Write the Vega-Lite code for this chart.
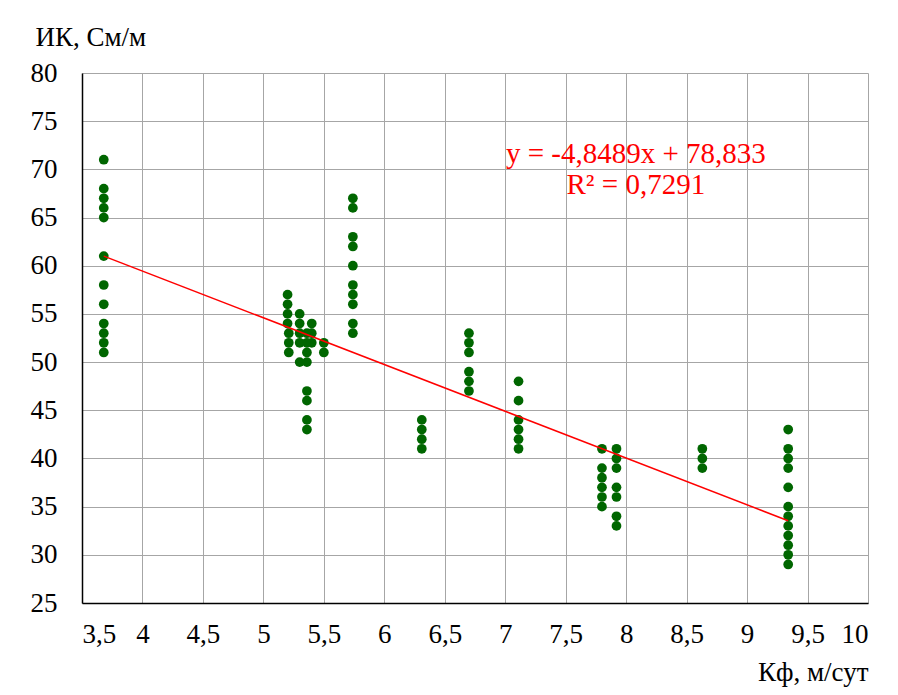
{
  "$schema": "https://vega.github.io/schema/vega-lite/v6.json",
  "width": 786,
  "height": 530,
  "autosize": {"type": "none"},
  "padding": {"left": 82, "top": 73, "right": 30, "bottom": 92},
  "background": "white",
  "config": {
    "view": {"stroke": null},
    "font": "Liberation Serif",
    "axis": {
      "labelFont": "Liberation Serif",
      "titleFont": "Liberation Serif",
      "labelFontSize": 27,
      "titleFontSize": 27,
      "labelColor": "black",
      "titleColor": "black",
      "titleFontWeight": "normal",
      "gridColor": "#a6a6a6",
      "gridWidth": 1,
      "domainColor": "black",
      "domainWidth": 1.5,
      "ticks": false
    }
  },
  "datasets": {
    "pts": [
      {"k": 3.68, "ik": 71}, {"k": 3.68, "ik": 68}, {"k": 3.68, "ik": 67}, {"k": 3.68, "ik": 66},
      {"k": 3.68, "ik": 65}, {"k": 3.68, "ik": 61}, {"k": 3.68, "ik": 58}, {"k": 3.68, "ik": 56},
      {"k": 3.68, "ik": 54}, {"k": 3.68, "ik": 53}, {"k": 3.68, "ik": 52}, {"k": 3.68, "ik": 51},
      {"k": 5.2, "ik": 57}, {"k": 5.2, "ik": 56}, {"k": 5.2, "ik": 55}, {"k": 5.2, "ik": 54},
      {"k": 5.21, "ik": 53}, {"k": 5.21, "ik": 52}, {"k": 5.21, "ik": 51},
      {"k": 5.3, "ik": 55}, {"k": 5.3, "ik": 54}, {"k": 5.3, "ik": 53}, {"k": 5.3, "ik": 52}, {"k": 5.3, "ik": 50},
      {"k": 5.36, "ik": 53}, {"k": 5.36, "ik": 52}, {"k": 5.36, "ik": 51}, {"k": 5.36, "ik": 50},
      {"k": 5.36, "ik": 47}, {"k": 5.36, "ik": 46}, {"k": 5.36, "ik": 44}, {"k": 5.36, "ik": 43},
      {"k": 5.4, "ik": 54}, {"k": 5.4, "ik": 53}, {"k": 5.4, "ik": 52},
      {"k": 5.5, "ik": 52}, {"k": 5.5, "ik": 51},
      {"k": 5.74, "ik": 67}, {"k": 5.74, "ik": 66}, {"k": 5.74, "ik": 63}, {"k": 5.74, "ik": 62},
      {"k": 5.74, "ik": 60}, {"k": 5.74, "ik": 58}, {"k": 5.74, "ik": 57}, {"k": 5.74, "ik": 56},
      {"k": 5.74, "ik": 54}, {"k": 5.74, "ik": 53},
      {"k": 6.31, "ik": 44}, {"k": 6.31, "ik": 43}, {"k": 6.31, "ik": 42}, {"k": 6.31, "ik": 41},
      {"k": 6.7, "ik": 53}, {"k": 6.7, "ik": 52}, {"k": 6.7, "ik": 51}, {"k": 6.7, "ik": 49},
      {"k": 6.7, "ik": 48}, {"k": 6.7, "ik": 47},
      {"k": 7.11, "ik": 48}, {"k": 7.11, "ik": 46}, {"k": 7.11, "ik": 44}, {"k": 7.11, "ik": 43},
      {"k": 7.11, "ik": 42}, {"k": 7.11, "ik": 41},
      {"k": 7.8, "ik": 41}, {"k": 7.8, "ik": 39}, {"k": 7.8, "ik": 38}, {"k": 7.8, "ik": 37},
      {"k": 7.8, "ik": 36}, {"k": 7.8, "ik": 35},
      {"k": 7.92, "ik": 41}, {"k": 7.92, "ik": 40}, {"k": 7.92, "ik": 39}, {"k": 7.92, "ik": 37},
      {"k": 7.92, "ik": 36}, {"k": 7.92, "ik": 34}, {"k": 7.92, "ik": 33},
      {"k": 8.63, "ik": 41}, {"k": 8.63, "ik": 40}, {"k": 8.63, "ik": 39},
      {"k": 9.34, "ik": 43}, {"k": 9.34, "ik": 41}, {"k": 9.34, "ik": 40}, {"k": 9.34, "ik": 39},
      {"k": 9.34, "ik": 37}, {"k": 9.34, "ik": 35}, {"k": 9.34, "ik": 34}, {"k": 9.34, "ik": 33},
      {"k": 9.34, "ik": 32}, {"k": 9.34, "ik": 31}, {"k": 9.34, "ik": 30}, {"k": 9.34, "ik": 29}
    ],
    "trend": [
      {"k": 3.68, "ik": 61.0},
      {"k": 9.34, "ik": 33.54}
    ],
    "notes": [
      {"k": 8.08, "ik": 71.6, "label": "y = -4,8489x + 78,833"},
      {"k": 8.08, "ik": 68.4, "label": "R² = 0,7291"}
    ]
  },
  "layer": [
    {
      "data": {"name": "pts"},
      "mark": {"type": "circle", "size": 95, "color": "#006600", "opacity": 1},
      "encoding": {
        "x": {
          "field": "k", "type": "quantitative",
          "scale": {"domain": [3.5, 10], "nice": false, "zero": false},
          "axis": {
            "values": [3.5, 4, 4.5, 5, 5.5, 6, 6.5, 7, 7.5, 8, 8.5, 9, 9.5, 10],
            "labelExpr": "replace(toString(datum.value), '.', ',')",
            "labelPadding": 18,
            "title": "Кф, м/сут",
            "titleAnchor": "end",
            "titleAlign": "right",
            "titlePadding": 12
          }
        },
        "y": {
          "field": "ik", "type": "quantitative",
          "scale": {"domain": [25, 80], "nice": false, "zero": false},
          "axis": {
            "values": [25, 30, 35, 40, 45, 50, 55, 60, 65, 70, 75, 80],
            "labelPadding": 25,
            "labelAlign": "right",
            "title": "ИК, См/м",
            "titleAngle": 0,
            "titleAlign": "left",
            "titleAnchor": "end",
            "titleX": -47,
            "titleY": -22,
            "titleBaseline": "bottom"
          }
        }
      }
    },
    {
      "data": {"name": "trend"},
      "mark": {"type": "line", "color": "#ff0000", "strokeWidth": 1.5},
      "encoding": {
        "x": {"field": "k", "type": "quantitative"},
        "y": {"field": "ik", "type": "quantitative"}
      }
    },
    {
      "data": {"name": "notes"},
      "mark": {"type": "text", "color": "#ff0000", "fontSize": 29, "font": "Liberation Serif", "align": "center", "baseline": "middle"},
      "encoding": {
        "x": {"field": "k", "type": "quantitative"},
        "y": {"field": "ik", "type": "quantitative"},
        "text": {"field": "label"}
      }
    }
  ]
}
